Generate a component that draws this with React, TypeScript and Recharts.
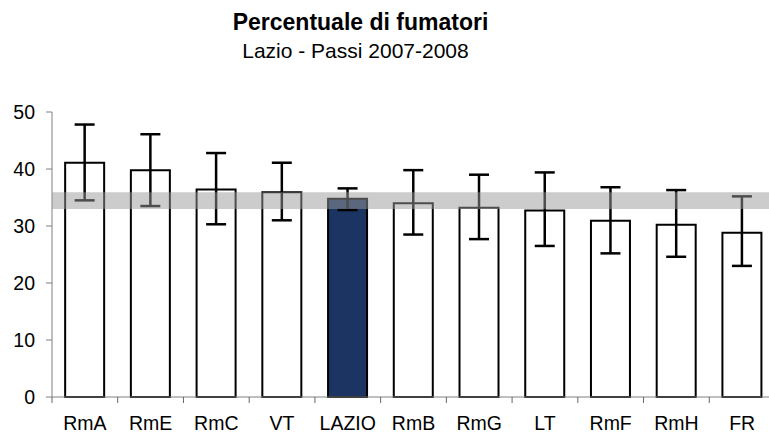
import { BarChart, Bar, XAxis, YAxis, ErrorBar, Cell, ReferenceArea } from "recharts"

const categories = ["RmA", "RmE", "RmC", "VT", "LAZIO", "RmB", "RmG", "LT", "RmF", "RmH", "FR"]
const smokers = [41.1, 39.8, 36.4, 35.9, 34.8, 34.0, 33.2, 32.7, 30.9, 30.2, 28.8]
const ciLow = [34.5, 33.5, 30.3, 31.0, 32.8, 28.5, 27.7, 26.5, 25.2, 24.6, 23.0]
const ciHigh = [47.8, 46.1, 42.8, 41.1, 36.6, 39.8, 39.0, 39.4, 36.8, 36.3, 35.2]
const yTicks = [0, 10, 20, 30, 40, 50]
const regionBand = [33.0, 35.9] // fascia grigia del dato regionale
const highlight = "LAZIO"

const data = categories.map((name, i) => ({
  name,
  value: smokers[i],
  err: [smokers[i] - ciLow[i], ciHigh[i] - smokers[i]],
}))

const FONT = "'Liberation Sans', Arial, sans-serif"
const MARGIN_LEFT = 0
const Y_AXIS_WIDTH = 52
const PLOT_LEFT = MARGIN_LEFT + Y_AXIS_WIDTH

// etichetta + tacca sul bordo sinistro della categoria (come in Excel)
function CategoryTick(props: any) {
  const { x, y, payload, index } = props
  const i = typeof index === "number" ? index : payload?.index ?? 0
  const band = (Number(x) - PLOT_LEFT) / (Number(i) + 0.5)
  const edge = Number(x) - band / 2
  return (
    <g>
      <line x1={edge} x2={edge} y1={Number(y)} y2={Number(y) + 6} stroke="#666" strokeWidth={1} />
      <text
        x={x}
        y={Number(y) + 19}
        dy="0.71em"
        textAnchor="middle"
        fill="#000"
        fontSize={19.5}
        fontFamily={FONT}
      >
        {payload.value}
      </text>
    </g>
  )
}

export default function App() {
  return (
    <div
      style={{
        position: "absolute",
        left: 0,
        top: 0,
        width: 769,
        height: 434,
        overflow: "hidden",
        background: "#fff",
        fontFamily: FONT,
      }}
    >
      {/* TITOLO */}
      <div
        style={{
          position: "absolute",
          left: 0,
          top: 11,
          width: 721,
          textAlign: "center",
          fontSize: 23,
          lineHeight: "23px",
          fontWeight: "bold",
          color: "#000",
        }}
      >
        Percentuale di fumatori
      </div>
      <div
        style={{
          position: "absolute",
          left: 0,
          top: 39.5,
          width: 711,
          textAlign: "center",
          fontSize: 21,
          lineHeight: "21px",
          color: "#000",
        }}
      >
        Lazio - Passi 2007-2008
      </div>

      {/* GRAFICO */}
      <div style={{ position: "absolute", left: 0, top: 0 }}>
        <BarChart
          width={790}
          height={434}
          data={data}
          margin={{ top: 112, right: 15, bottom: 0, left: MARGIN_LEFT }}
          barCategoryGap="20%"
        >
          <XAxis
            dataKey="name"
            height={37}
            stroke="#808080"
            tickLine={false}
            tickSize={0}
            tickMargin={0}
            interval={0}
            tick={<CategoryTick />}
          />
          <YAxis
            width={Y_AXIS_WIDTH}
            domain={[0, 50]}
            ticks={yTicks}
            stroke="#808080"
            tickSize={6}
            tickMargin={11}
            tick={{ fill: "#000", fontSize: 19.5, fontFamily: FONT }}
          />
          <Bar dataKey="value" fill="#fff" stroke="#000" strokeWidth={2} isAnimationActive={false}>
            {data.map((d) => (
              <Cell key={d.name} fill={d.name === highlight ? "#1b3461" : "#fff"} />
            ))}
            <ErrorBar dataKey="err" width={10} stroke="#000" strokeWidth={2.5} />
          </Bar>
          <ReferenceArea
            y1={regionBand[0]}
            y2={regionBand[1]}
            fill="#999999"
            fillOpacity={0.5}
            stroke="none"
            zIndex={1500}
          />
        </BarChart>
      </div>
    </div>
  )
}
